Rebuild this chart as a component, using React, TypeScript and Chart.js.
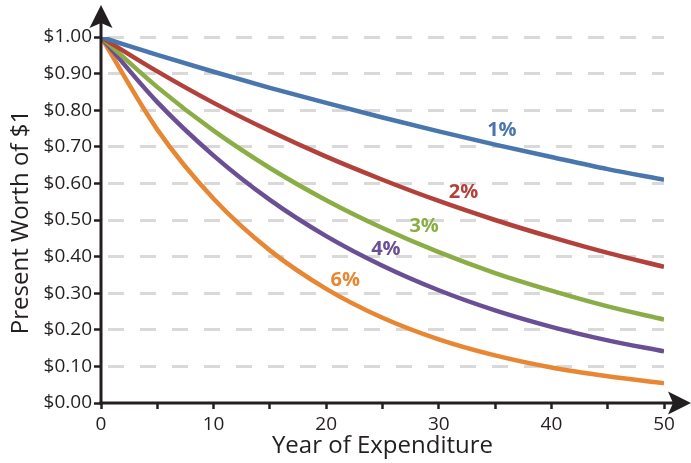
import React, { useEffect, useRef } from "react";
import { Chart, registerables } from "chart.js";

Chart.register(...registerables);

const years = [0, 5, 10, 15, 20, 25, 30, 35, 40, 45, 50];
const rate1 = [1.0, 0.951, 0.905, 0.861, 0.82, 0.78, 0.742, 0.706, 0.672, 0.639, 0.61];
const rate2 = [1.0, 0.906, 0.82, 0.743, 0.673, 0.61, 0.552, 0.5, 0.453, 0.41, 0.372];
const rate3 = [1.0, 0.863, 0.744, 0.642, 0.554, 0.478, 0.412, 0.355, 0.307, 0.264, 0.228];
const rate4 = [1.0, 0.822, 0.676, 0.555, 0.456, 0.375, 0.308, 0.253, 0.208, 0.171, 0.141];
const rate6 = [1.0, 0.747, 0.558, 0.417, 0.312, 0.233, 0.174, 0.13, 0.097, 0.073, 0.054];

const seriesNames = ["1%", "2%", "3%", "4%", "6%"];
const seriesValues = [rate1, rate2, rate3, rate4, rate6];
const seriesColors = ["#4a76ae", "#b3413b", "#8bad46", "#6b4f95", "#e78733"];
// label anchor positions in data units (year, value)
const labelYears = [35.6, 32.2, 28.7, 25.3, 21.7];
const labelValues = [0.746, 0.577, 0.484, 0.42, 0.336];

const yTickValues = [0, 0.1, 0.2, 0.3, 0.4, 0.5, 0.6, 0.7, 0.8, 0.9, 1.0];
const xTitle = "Year of Expenditure";
const yTitle = "Present Worth of $1";

const FONT = "'Open Sans', sans-serif";
const INK = "#231f20";

const decorPlugin = {
  id: "decor",
  afterDatasetsDraw(chart: any) {
    const { ctx, chartArea, scales } = chart;
    const x0 = chartArea.left;
    const y0 = chartArea.bottom;
    ctx.save();
    ctx.strokeStyle = INK;
    ctx.fillStyle = INK;
    ctx.lineWidth = 3;
    ctx.lineCap = "butt";
    // y axis line
    ctx.beginPath();
    ctx.moveTo(x0, y0 + 1.5);
    ctx.lineTo(x0, 20);
    ctx.stroke();
    // x axis line
    ctx.beginPath();
    ctx.moveTo(x0 - 1.5, y0);
    ctx.lineTo(676, y0);
    ctx.stroke();
    // y arrow
    ctx.beginPath();
    ctx.moveTo(x0, 5);
    ctx.lineTo(x0 + 11.5, 28);
    ctx.lineTo(x0, 23);
    ctx.lineTo(x0 - 11.5, 28);
    ctx.closePath();
    ctx.fill();
    // x arrow
    ctx.beginPath();
    ctx.moveTo(691, y0);
    ctx.lineTo(668, y0 - 11.5);
    ctx.lineTo(673, y0);
    ctx.lineTo(668, y0 + 11.5);
    ctx.closePath();
    ctx.fill();

    // series labels
    ctx.font = `bold 20px ${FONT}`;
    ctx.textAlign = "center";
    ctx.textBaseline = "middle";
    seriesNames.forEach((n, i) => {
      ctx.fillStyle = seriesColors[i];
      ctx.fillText(n, scales.x.getPixelForValue(labelYears[i]), scales.y.getPixelForValue(labelValues[i]));
    });

    // titles
    ctx.fillStyle = INK;
    ctx.font = `24px ${FONT}`;
    ctx.textAlign = "center";
    ctx.textBaseline = "middle";
    ctx.fillText(xTitle, (chartArea.left + chartArea.right) / 2, 446);
    ctx.save();
    ctx.translate(21, (chartArea.top + chartArea.bottom) / 2 + 2);
    ctx.rotate(-Math.PI / 2);
    ctx.fillText(yTitle, 0, 0);
    ctx.restore();
    ctx.restore();
  },
};

export default function App() {
  const ref = useRef<HTMLCanvasElement | null>(null);
  useEffect(() => {
    if (!ref.current) return;
    const chart = new Chart(ref.current, {
      type: "line",
      data: {
        datasets: seriesValues.map((vals, i) => ({
          label: seriesNames[i],
          data: years.map((yr, j) => ({ x: yr, y: vals[j] })),
          borderColor: seriesColors[i],
          backgroundColor: seriesColors[i],
          borderWidth: 4.5,
          pointRadius: 0,
          fill: false,
          cubicInterpolationMode: "monotone" as const,
        })),
      },
      options: {
        animation: false,
        responsive: false,
        events: [],
        layout: { padding: { top: 37, right: 27, left: 0, bottom: 0 } },
        plugins: { legend: { display: false }, tooltip: { enabled: false } },
        scales: {
          x: {
            type: "linear",
            min: 0,
            max: 50,
            afterFit: (s: any) => {
              s.height = 60;
            },
            afterBuildTicks: (s: any) => {
              s.ticks = years.map((v) => ({ value: v }));
            },
            border: { display: false },
            grid: {
              drawOnChartArea: false,
              drawTicks: true,
              tickLength: 6,
              tickWidth: 2.5,
              tickColor: INK,
            },
            ticks: {
              autoSkip: false,
              maxRotation: 0,
              padding: 4,
              color: INK,
              font: { family: FONT, size: 19 },
              callback: (v: any) => (Number(v) % 10 === 0 ? String(v) : ""),
            },
          },
          y: {
            type: "linear",
            min: 0,
            max: 1,
            afterFit: (s: any) => {
              s.width = 101;
            },
            afterBuildTicks: (s: any) => {
              s.ticks = yTickValues.map((v) => ({ value: v }));
            },
            border: { display: false, dash: [16, 16], dashOffset: 25 },
            grid: {
              color: (c: any) => (c.tick && c.tick.value === 0 ? "rgba(0,0,0,0)" : "#d9d9d9"),
              lineWidth: 3,
              drawTicks: true,
              tickLength: 7,
              tickWidth: 2.5,
              tickColor: INK,
            },
            ticks: {
              padding: 2,
              color: INK,
              font: { family: FONT, size: 19 },
              callback: (v: any) => "$" + Number(v).toFixed(2),
            },
          },
        },
      },
      plugins: [decorPlugin],
    });
    return () => chart.destroy();
  }, []);
  return (
    <div style={{ position: "absolute", left: 0, top: 0, width: 691, height: 463 }}>
      <canvas ref={ref} width={691} height={463} style={{ display: "block", width: 691, height: 463 }} />
    </div>
  );
}
